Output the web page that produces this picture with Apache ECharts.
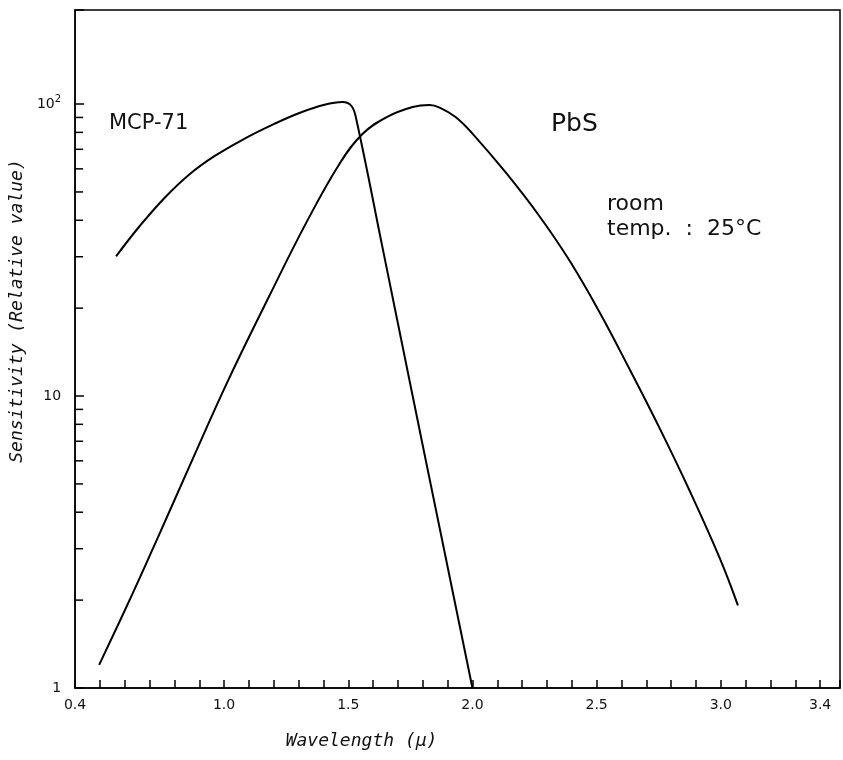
<!DOCTYPE html>
<html>
<head>
<meta charset="utf-8">
<title>Sensitivity vs wavelength</title>
<script src="https://cdn.jsdelivr.net/npm/echarts@6/dist/echarts.min.js"></script>
<style>
  html, body { margin: 0; padding: 0; background: #fff; }
  #chart { width: 843px; height: 760px; }
</style>
</head>
<body>
<div id="chart"></div>
<script>
// wavelength (μ), relative sensitivity
const mcpWave = [0.565, 0.658, 0.759, 0.860, 0.961, 1.081, 1.202, 1.303, 1.404, 1.477, 1.513, 1.533, 1.64, 1.76, 1.868, 2.0]
const mcpSens = [30.1, 38.0, 47.6, 57.4, 66.3, 76.0, 85.5, 93.2, 99.4, 101.6, 98.5, 88.2, 31.6, 9.94, 3.53, 1.0]

const pbsWave = [0.497, 0.631, 0.739, 0.860, 1.014, 1.182, 1.330, 1.465, 1.558, 1.653, 1.759, 1.827, 1.868, 1.932, 2.001, 2.134, 2.267, 2.392, 2.513, 2.634, 2.755, 2.876, 2.997, 3.069]
const pbsSens = [1.20, 2.10, 3.36, 5.73, 11.2, 22.0, 39.1, 62.5, 79.1, 90.1, 97.7, 99.3, 97.3, 90.3, 79.1, 58.3, 41.6, 29.0, 19.3, 12.3, 7.72, 4.71, 2.77, 1.92]

const xLabels = [0.4, 1.0, 1.5, 2.0, 2.5, 3.0, 3.4]
const yMinorTicks = [2, 3, 4, 5, 6, 7, 8, 9, 20, 30, 40, 50, 60, 70, 80, 90]

const zip = (xs, ys) => xs.map((x, i) => [x, ys[i]])
const font = 'DejaVu Sans'
const titleFont = 'DejaVu Sans Mono'

const chart = echarts.init(document.getElementById('chart'))
const option = {
  animation: false,
  grid: {
    left: 75,
    right: 2,
    top: 10,
    bottom: 72,
    show: true,
    borderColor: '#000',
    borderWidth: 1.5
  },
  xAxis: {
    type: 'value',
    min: 0.4,
    max: 3.48,
    interval: 0.1,
    name: 'Wavelength (μ)',
    nameLocation: 'middle',
    nameGap: 44,
    nameTextStyle: {
      fontFamily: titleFont,
      fontStyle: 'italic',
      fontSize: 18,
      color: '#111',
      padding: [0, 192, 0, 0]
    },
    axisLine: { lineStyle: { color: '#000', width: 1.5 } },
    axisTick: { inside: true, length: 8, lineStyle: { color: '#000', width: 1.5 } },
    axisLabel: {
      interval: 0,
      margin: 10,
      fontFamily: font,
      fontSize: 14,
      color: '#111',
      formatter: function (v) {
        const k = Math.round(v * 10)
        return xLabels.some(l => Math.round(l * 10) === k) ? (k / 10).toFixed(1) : ''
      }
    },
    splitLine: { show: false }
  },
  yAxis: {
    type: 'log',
    logBase: 10,
    min: 1,
    max: 210,
    name: 'Sensitivity (Relative value)',
    nameLocation: 'middle',
    nameGap: 44,
    nameTextStyle: {
      fontFamily: titleFont,
      fontStyle: 'italic',
      fontSize: 18,
      color: '#111',
      padding: [0, 0, 0, 76]
    },
    axisLine: { lineStyle: { color: '#000', width: 1.5 } },
    axisTick: { inside: true, length: 9, lineStyle: { color: '#000', width: 1.5 } },
    axisLabel: {
      margin: 14,
      fontFamily: font,
      fontSize: 14,
      color: '#111',
      formatter: function (v) {
        const e = Math.log10(v)
        if (Math.abs(e - Math.round(e)) > 0.01) return ''
        const r = Math.round(e)
        if (r === 2) return '10{sup|2}'
        return String(Math.pow(10, r))
      },
      rich: {
        sup: { fontFamily: font, fontSize: 10, color: '#111', padding: [0, 0, 10, 0] }
      }
    },
    splitLine: { show: false }
  },
  series: [
    {
      name: 'MCP-71',
      type: 'line',
      data: zip(mcpWave, mcpSens),
      showSymbol: false,
      smooth: 0.4,
      lineStyle: { color: '#000', width: 2 }
    },
    {
      name: 'PbS',
      type: 'line',
      data: zip(pbsWave, pbsSens),
      showSymbol: false,
      smooth: 0.4,
      lineStyle: { color: '#000', width: 2 }
    },
    {
      // minor log ticks at 2..9 of each decade
      type: 'custom',
      silent: true,
      data: yMinorTicks.map(v => [0.4, v]),
      renderItem: function (params, api) {
        const p = api.coord([api.value(0), api.value(1)])
        return {
          type: 'line',
          shape: { x1: p[0], y1: p[1], x2: p[0] + 8, y2: p[1] },
          style: { stroke: '#000', lineWidth: 1.5 }
        }
      }
    }
  ],
  graphic: [
    { type: 'text', left: 109, top: 113, style: { text: 'MCP-71', fontFamily: font, fontSize: 21, fill: '#111' } },
    { type: 'text', left: 551, top: 112, style: { text: 'PbS', fontFamily: font, fontSize: 25, fill: '#111' } },
    { type: 'text', left: 607, top: 193, style: { text: 'room', fontFamily: font, fontSize: 22, fill: '#111' } },
    { type: 'text', left: 607, top: 218, style: { text: 'temp.  :  25°C', fontFamily: font, fontSize: 22, fill: '#111' } }
  ]
}
chart.setOption(option)
</script>
</body>
</html>
